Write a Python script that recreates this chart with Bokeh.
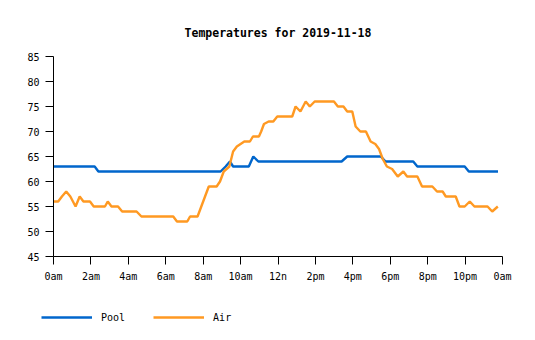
from bokeh.plotting import figure
from bokeh.layouts import column
from bokeh.models import ColumnDataSource, FixedTicker, Legend, LegendItem, Range1d
from bokeh.embed import file_html
from bokeh.resources import INLINE

# Hours since midnight and temperatures (°F)
pool_hours = [0, 2.2, 2.4, 8.93, 9.2, 9.43, 9.6, 10.44, 10.68, 10.95, 15.4, 15.7,
              17.5, 17.75, 19.23, 19.45, 21.98, 22.2, 23.76]
pool_temp = [63, 63, 62, 62, 63, 64, 63, 63, 65, 64, 64, 65,
             65, 64, 64, 63, 63, 62, 62]

air_hours = [0, 0.25, 0.45, 0.68, 0.9, 1.18, 1.4, 1.6, 1.95, 2.15, 2.75, 2.9, 3.1, 3.45,
             3.67, 4.44, 4.7, 6.4, 6.6, 7.15, 7.3, 7.7, 7.9, 8.1, 8.3, 8.72, 8.9, 9.1,
             9.4, 9.6, 9.8, 10.2, 10.5, 10.66, 10.98, 11.1, 11.25, 11.5, 11.75, 11.96,
             12.76, 12.94, 13.2, 13.48, 13.7, 13.96, 14.99, 15.2, 15.5, 15.7, 15.97,
             16.15, 16.4, 16.7, 16.95, 17.2, 17.4, 17.6, 17.82, 18.1, 18.4, 18.7, 18.9,
             19.45, 19.7, 20.25, 20.5, 20.8, 20.97, 21.5, 21.7, 21.98, 22.25, 22.5,
             23.2, 23.45, 23.75]
air_temp = [56, 56, 57, 58, 57, 55, 57, 56, 56, 55, 55, 56, 55, 55,
            54, 54, 53, 53, 52, 52, 53, 53, 55, 57, 59, 59, 60, 62,
            63, 66, 67, 68, 68, 69, 69, 70, 71.5, 72, 72, 73,
            73, 75, 74, 76, 75, 76, 76, 75, 75, 74, 74,
            71, 70, 70, 68, 67.5, 66.5, 64.5, 63, 62.5, 61, 62, 61,
            61, 59, 59, 58, 58, 57, 57, 55, 55, 56, 55,
            55, 54, 55]

x_ticks = [0, 2, 4, 6, 8, 10, 12, 14, 16, 18, 20, 22, 24]
x_labels = ["0am", "2am", "4am", "6am", "8am", "10am", "12n", "2pm", "4pm",
            "6pm", "8pm", "10pm", "0am"]
y_ticks = [45, 50, 55, 60, 65, 70, 75, 80, 85]

title = "Temperatures for 2019-11-18"
series_names = ["Pool", "Air"]
colors = ["#0066cc", "#ff9922"]

FONT = "DejaVu Sans Mono"
LW = 2.4

p = figure(width=535, height=300, output_backend="svg", toolbar_location=None,
           min_border_left=53, min_border_right=33, min_border_top=56,
           min_border_bottom=44, title=title, frame_align=False,
           x_range=Range1d(0, 24), y_range=Range1d(45, 85))

p.title.align = "center"
p.title.text_font = FONT
p.title.text_font_size = "11.5px"
p.title.text_font_style = "bold"
p.title.text_color = "black"
p.title.standoff = 34

p.outline_line_color = None
p.xgrid.grid_line_color = None
p.ygrid.grid_line_color = None
p.background_fill_color = "white"
p.border_fill_color = "white"

for ax in (p.xaxis[0], p.yaxis[0]):
    ax.axis_line_color = "black"
    ax.major_tick_line_color = "black"
    ax.minor_tick_line_color = None
    ax.major_tick_out = 8
    ax.major_tick_in = 0
    ax.major_label_text_font = FONT
    ax.major_label_text_font_size = "10px"
    ax.major_label_text_color = "black"
    ax.major_label_standoff = 6

p.xaxis[0].ticker = FixedTicker(ticks=x_ticks)
p.xaxis[0].major_label_overrides = {t: l for t, l in zip(x_ticks, x_labels)}
p.yaxis[0].ticker = FixedTicker(ticks=y_ticks)

src_pool = ColumnDataSource(dict(x=pool_hours, y=pool_temp))
src_air = ColumnDataSource(dict(x=air_hours, y=air_temp))
r_pool = p.line("x", "y", source=src_pool, line_color=colors[0], line_width=LW)
r_air = p.line("x", "y", source=src_air, line_color=colors[1], line_width=LW)

# Separate strip below the chart that carries the legend (its data range is
# far from the series, so only the legend entries are visible there)
lg = figure(width=535, height=40, output_backend="svg", toolbar_location=None,
            min_border=0, x_axis_location=None, y_axis_location=None,
            frame_align=False,
            x_range=Range1d(0, 24), y_range=Range1d(1000, 1001))
lg.grid.visible = False
lg.outline_line_color = None
lg.border_fill_color = "white"
lg_pool = lg.line("x", "y", source=src_pool, line_color=colors[0], line_width=LW)
lg_air = lg.line("x", "y", source=src_air, line_color=colors[1], line_width=LW)

legend = Legend(items=[LegendItem(label=series_names[0], renderers=[lg_pool]),
                       LegendItem(label=series_names[1], renderers=[lg_air])],
                orientation="horizontal", location=(41, 13),
                glyph_width=51, glyph_height=20, label_standoff=9, spacing=28,
                padding=0, margin=0, border_line_color=None,
                background_fill_alpha=0,
                label_text_font=FONT, label_text_font_size="10px",
                label_text_color="black")
lg.add_layout(legend, "center")

layout = column(p, lg, spacing=0)
open("out.html", "w").write(file_html(layout, INLINE))
